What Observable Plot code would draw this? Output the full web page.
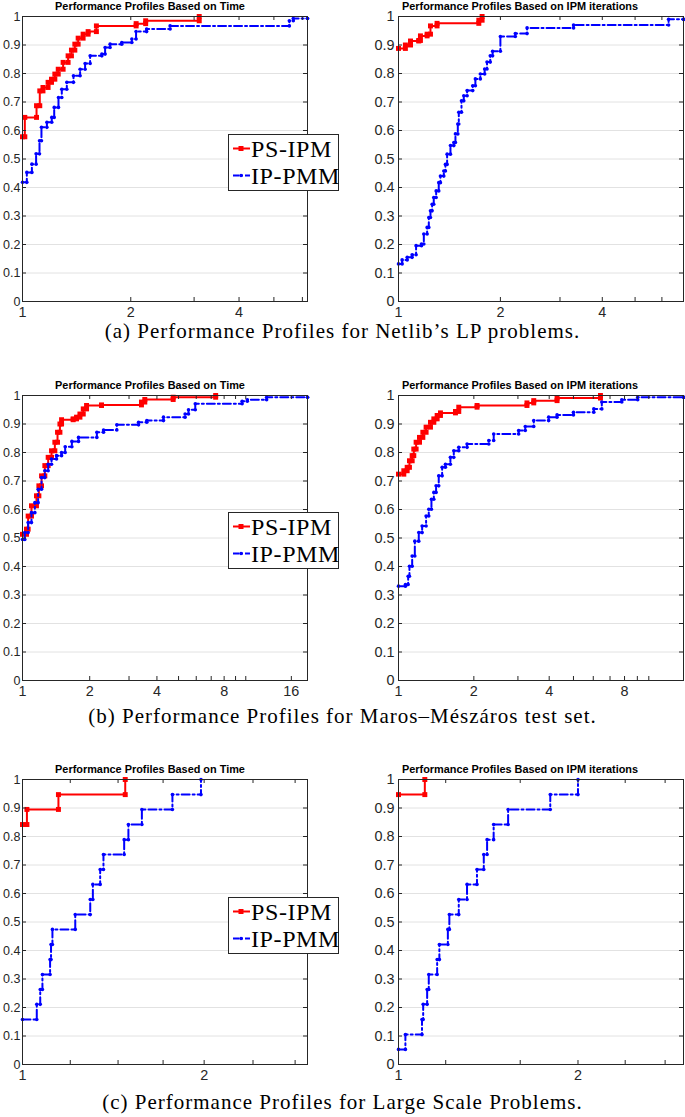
<!DOCTYPE html>
<html><head><meta charset="utf-8">
<script src="https://cdn.jsdelivr.net/npm/d3@7"></script>
<script src="https://cdn.jsdelivr.net/npm/@observablehq/plot@0.6"></script>
<style>
html,body{margin:0;padding:0;background:#fff;}
#root{position:relative;width:685px;height:1117px;overflow:hidden;background:#fff;}
.panel{position:absolute;}
.ptitle{position:absolute;font:bold 10.9px "Liberation Sans",Arial,sans-serif;color:#000;white-space:nowrap;transform:translate(-50%,-50%);}
.caption{position:absolute;left:0;width:685px;text-align:center;font:21px "Liberation Serif","Times New Roman",serif;letter-spacing:1px;color:#000;white-space:nowrap;line-height:24px;}
.legend{position:absolute;}
.legend text{font-family:"Liberation Serif","Times New Roman",serif;font-size:24px;letter-spacing:0.6px;}
</style></head><body><div id="root"></div><script>
// ---------- data ----------
const seriesNames = ["PS-IPM", "IP-PMM"];
const panelTitles = ["Performance Profiles Based on Time", "Performance Profiles Based on IPM iterations"];
const captions = [
  "(a) Performance Profiles for Netlib\u2019s LP problems.",
  "(b) Performance Profiles for Maros\u2013M\u00e9sz\u00e1ros test set.",
  "(c) Performance Profiles for Large Scale Problems."
];
const yTicks = [0, 0.1, 0.2, 0.3, 0.4, 0.5, 0.6, 0.7, 0.8, 0.9, 1];

// (a) Netlib
const netlibTimeMax = 6.2;
const netlibTimeTicks = [1, 2, 4];
const netlibTimeMinor = [3, 5, 6];
const netlibTimePS = [[1,0.578],[1.015,0.646],[1.094,0.687],[1.117,0.739],[1.14,0.751],[1.178,0.769],[1.204,0.78],[1.23,0.798],[1.257,0.815],[1.297,0.839],[1.339,0.862],[1.368,0.882],[1.398,0.903],[1.428,0.924],[1.474,0.938],[1.522,0.947],[1.605,0.967],[2.07,0.975],[2.2,0.985],[3.1,1.0]];
const netlibTimeIP = [[1,0.418],[1.028,0.453],[1.062,0.482],[1.091,0.518],[1.115,0.564],[1.129,0.611],[1.169,0.629],[1.206,0.646],[1.225,0.681],[1.259,0.716],[1.286,0.745],[1.328,0.769],[1.386,0.792],[1.446,0.815],[1.493,0.835],[1.542,0.862],[1.662,0.868],[1.697,0.891],[1.752,0.903],[1.888,0.909],[2.014,0.921],[2.069,0.947],[2.214,0.956],[2.573,0.967],[5.52,0.985],[5.66,0.993],[6.2,0.993]];

const netlibIterMax = 6.95;
const netlibIterTicks = [1, 2, 4];
const netlibIterMinor = [3, 5, 6];
const netlibIterPS = [[1,0.888],[1.048,0.9],[1.085,0.914],[1.148,0.916],[1.161,0.932],[1.215,0.938],[1.243,0.967],[1.3,0.976],[1.727,0.987],[1.766,1.0]];
const netlibIterIP = [[1,0.132],[1.025,0.146],[1.061,0.155],[1.097,0.164],[1.127,0.196],[1.169,0.202],[1.188,0.237],[1.215,0.26],[1.229,0.295],[1.243,0.318],[1.257,0.341],[1.271,0.365],[1.292,0.388],[1.315,0.417],[1.33,0.44],[1.361,0.458],[1.376,0.481],[1.392,0.517],[1.424,0.547],[1.457,0.558],[1.473,0.588],[1.497,0.623],[1.507,0.664],[1.535,0.704],[1.559,0.722],[1.595,0.74],[1.657,0.757],[1.687,0.781],[1.745,0.798],[1.797,0.816],[1.826,0.84],[1.867,0.862],[1.897,0.878],[2.0,0.93],[2.214,0.94],[2.398,0.96],[3.29,0.97],[6.28,0.99],[6.95,0.99]];

// (b) Maros–Mészáros
const marosTimeMax = 18.9;
const marosTimeTicks = [1, 2, 4, 8, 16];
const marosTimeMinor = [3, 5, 6, 7, 9, 10];
const marosTimePS = [[1,0.513],[1.042,0.531],[1.06,0.577],[1.097,0.613],[1.155,0.648],[1.184,0.683],[1.217,0.718],[1.259,0.754],[1.303,0.783],[1.349,0.806],[1.396,0.836],[1.435,0.871],[1.471,0.9],[1.496,0.915],[1.686,0.918],[1.746,0.924],[1.808,0.935],[1.871,0.953],[1.936,0.965],[2.259,0.967],[3.41,0.977],[3.53,0.986],[4.73,0.994],[7.33,1.0]];
const marosTimeIP = [[1,0.495],[1.024,0.519],[1.06,0.554],[1.097,0.589],[1.136,0.624],[1.175,0.671],[1.217,0.712],[1.259,0.736],[1.303,0.759],[1.349,0.777],[1.42,0.789],[1.496,0.8],[1.553,0.82],[1.664,0.839],[1.782,0.853],[2.153,0.871],[2.307,0.879],[2.645,0.897],[3.31,0.906],[3.605,0.912],[4.28,0.924],[5.35,0.935],[5.54,0.95],[5.94,0.971],[9.63,0.98],[10.16,0.985],[12.4,0.994],[18.9,0.994]];

const marosIterMax = 13.76;
const marosIterTicks = [1, 2, 4, 8];
const marosIterMinor = [3, 5, 6, 7, 9, 10];
const marosIterPS = [[1,0.724],[1.05,0.736],[1.083,0.748],[1.106,0.771],[1.134,0.789],[1.151,0.812],[1.176,0.836],[1.213,0.853],[1.251,0.871],[1.289,0.889],[1.342,0.906],[1.384,0.918],[1.427,0.93],[1.471,0.939],[1.689,0.944],[1.741,0.959],[2.06,0.965],[3.26,0.974],[3.47,0.982],[4.3,0.991],[6.41,1.0]];
const marosIterIP = [[1,0.331],[1.066,0.337],[1.093,0.366],[1.106,0.401],[1.134,0.437],[1.162,0.489],[1.205,0.519],[1.243,0.542],[1.289,0.577],[1.321,0.601],[1.354,0.636],[1.384,0.66],[1.413,0.683],[1.448,0.718],[1.494,0.748],[1.54,0.759],[1.612,0.783],[1.663,0.806],[1.741,0.818],[1.879,0.83],[2.295,0.842],[2.401,0.865],[3.02,0.877],[3.21,0.891],[3.47,0.912],[3.98,0.924],[4.3,0.932],[5.0,0.941],[6.03,0.953],[6.49,0.977],[7.8,0.985],[9.03,0.994],[13.76,0.994]];

// (c) Large scale
const largeTimeMax = 2.967;
const largeTimeTicks = [1, 2];
const largeTimeMinor = [1.2, 1.44, 1.71, 2.41, 2.83];
const largeTimePS = [[1,0.842],[1.017,0.895],[1.147,0.947],[1.48,1.0]];
const largeTimeIP = [[1,0.158],[1.056,0.211],[1.07,0.263],[1.079,0.316],[1.111,0.368],[1.115,0.421],[1.121,0.474],[1.223,0.526],[1.295,0.579],[1.308,0.632],[1.345,0.684],[1.362,0.737],[1.474,0.789],[1.498,0.842],[1.577,0.895],[1.772,0.947],[1.976,1.0]];

const largeIterMax = 3.006;
const largeIterTicks = [1, 2];
const largeIterMinor = [1.2, 1.6, 2.4, 2.8];
const largeIterPS = [[1,0.947],[1.107,1.0]];
const largeIterIP = [[1,0.053],[1.027,0.105],[1.095,0.158],[1.1,0.211],[1.117,0.263],[1.124,0.316],[1.161,0.368],[1.171,0.421],[1.21,0.474],[1.217,0.526],[1.262,0.579],[1.303,0.632],[1.354,0.684],[1.39,0.737],[1.408,0.789],[1.444,0.842],[1.527,0.895],[1.797,0.947],[2.0,1.0]];

// ---------- layout ----------
const RED = "#ff0000", BLUE = "#0000ff", AX = "#262626";
const root = document.getElementById("root");

function corners(arr) {
  const out = [];
  arr.forEach(([x, y], i) => {
    if (i > 0) out.push({x, y: arr[i - 1][1]});
    out.push({x, y});
  });
  return out;
}

function makePanel(p) {
  const W = p.left ? 320 : 345;
  const ml = p.left ? 22 : 58, mr = p.left ? 13 : 2;
  const H = 320, mt = 16, mb = 19;
  const fw = W - ml - mr, fh = H - mt - mb;
  const red = corners(p.red), blue = corners(p.blue);
  const allTicks = [...p.ticks, ...p.minor];
  const chart = Plot.plot({
    width: W, height: H, marginLeft: ml, marginRight: mr, marginTop: mt, marginBottom: mb,
    style: {fontFamily: "'Liberation Sans', Arial, sans-serif", fontSize: "14.4px", color: AX, background: "transparent", overflow: "visible"},
    x: {type: "log", domain: [1, p.xmax], label: null},
    y: {domain: [0, 1], label: null},
    marks: [
      Plot.ruleY(yTicks.slice(1, -1), {stroke: "#e2e2e2", strokeWidth: 1}),
      Plot.line(red, {x: "x", y: "y", stroke: RED, strokeWidth: 2}),
      Plot.dot(red, {x: "x", y: "y", symbol: "square", r: 2.8, fill: RED, stroke: null}),
      Plot.line(blue, {x: "x", y: "y", stroke: BLUE, strokeWidth: 2, strokeDasharray: "8,3,2,3"}),
      Plot.dot(blue, {x: "x", y: "y", r: 1.8, fill: BLUE, stroke: null}),
      Plot.frame({stroke: AX, strokeWidth: 1}),
      Plot.tickX(allTicks, {x: d => d, insetTop: fh - 4, stroke: AX}),
      Plot.tickX(allTicks, {x: d => d, insetBottom: fh - 4, stroke: AX}),
      Plot.tickY(yTicks, {y: d => d, insetRight: fw - 4, stroke: AX}),
      Plot.tickY(yTicks, {y: d => d, insetLeft: fw - 4, stroke: AX}),
      Plot.axisX({ticks: p.ticks, tickSize: 0, tickPadding: 5, tickFormat: d => String(d), label: null, fill: AX}),
      Plot.axisY({ticks: yTicks, tickSize: 0, tickPadding: p.left ? 2 : 4,
        fontSize: p.left ? 12.5 : 14.4,
        tickFormat: d => (d === 0 || d === 1) ? String(d) : d.toFixed(1), label: null, fill: AX})
    ]
  });
  chart.classList.add("panel");
  chart.style.left = (p.left ? 0 : 340) + "px";
  chart.style.top = p.top + "px";
  root.appendChild(chart);

  const t = document.createElement("div");
  t.className = "ptitle";
  t.textContent = p.title;
  t.style.left = (p.left ? 150 : 520) + "px";
  t.style.top = (p.top + mt - 10) + "px";
  root.appendChild(t);
}

function makeLegend(top) {
  const svg = d3.create("svg").attr("class", "legend").attr("width", 111).attr("height", 57)
    .style("left", "228px").style("top", top + "px");
  svg.append("rect").attr("x", 0.5).attr("y", 0.5).attr("width", 110).attr("height", 56)
    .attr("fill", "#fff").attr("stroke", AX);
  const rows = [
    {name: seriesNames[0], color: RED, dash: null, sq: true, cy: 14.5},
    {name: seriesNames[1], color: BLUE, dash: "6,2,2,2", sq: false, cy: 41.5}
  ];
  for (const r of rows) {
    svg.append("line").attr("x1", 5).attr("x2", 22).attr("y1", r.cy).attr("y2", r.cy)
      .attr("stroke", r.color).attr("stroke-width", 2).attr("stroke-dasharray", r.dash);
    if (r.sq) svg.append("rect").attr("x", 10.5).attr("y", r.cy - 2.5).attr("width", 5).attr("height", 5).attr("fill", r.color);
    else svg.append("circle").attr("cx", 13).attr("cy", r.cy).attr("r", 1.8).attr("fill", r.color);
    svg.append("text").attr("x", 23).attr("y", r.cy).attr("dy", "0.35em").attr("fill", "#000")
      .text(r.name);
  }
  root.appendChild(svg.node());
}

function makeCaption(text, top) {
  const c = document.createElement("div");
  c.className = "caption";
  c.style.top = top + "px";
  c.textContent = text;
  root.appendChild(c);
}

const rows = [
  {top: 0, legendTop: 134, capTop: 319, caption: captions[0],
   L: {red: netlibTimePS, blue: netlibTimeIP, xmax: netlibTimeMax, ticks: netlibTimeTicks, minor: netlibTimeMinor},
   R: {red: netlibIterPS, blue: netlibIterIP, xmax: netlibIterMax, ticks: netlibIterTicks, minor: netlibIterMinor}},
  {top: 379, legendTop: 512, capTop: 704, caption: captions[1],
   L: {red: marosTimePS, blue: marosTimeIP, xmax: marosTimeMax, ticks: marosTimeTicks, minor: marosTimeMinor},
   R: {red: marosIterPS, blue: marosIterIP, xmax: marosIterMax, ticks: marosIterTicks, minor: marosIterMinor}},
  {top: 763, legendTop: 897, capTop: 1090, caption: captions[2],
   L: {red: largeTimePS, blue: largeTimeIP, xmax: largeTimeMax, ticks: largeTimeTicks, minor: largeTimeMinor},
   R: {red: largeIterPS, blue: largeIterIP, xmax: largeIterMax, ticks: largeIterTicks, minor: largeIterMinor}}
];

for (const r of rows) {
  makePanel({...r.L, left: true, top: r.top, title: panelTitles[0]});
  makePanel({...r.R, left: false, top: r.top, title: panelTitles[1]});
  makeLegend(r.legendTop);
  makeCaption(r.caption, r.capTop);
}
</script></body></html>
